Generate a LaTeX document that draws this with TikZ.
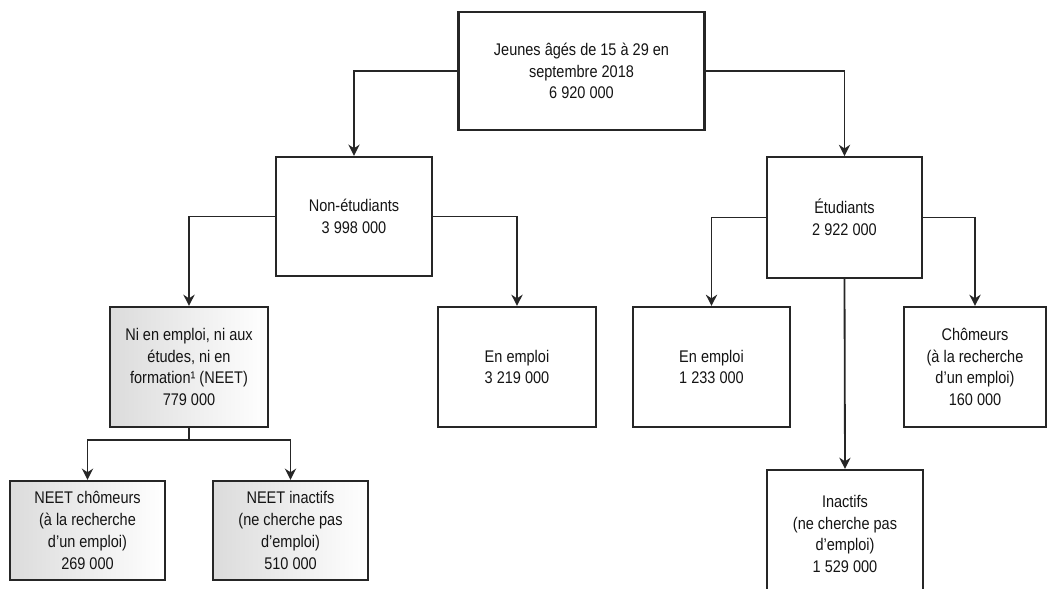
\documentclass[tikz,border=0pt]{standalone}
\usepackage{fontspec}
\setmainfont{Liberation Sans}[FakeStretch=0.86]
\usetikzlibrary{arrows.meta}
\tikzset{
  boite/.style={draw=black!85, line width=1.5pt, fill=white, align=center,
                text=black!92, font=\fontsize{12}{15.5}\selectfont},
  neet/.style={boite, left color=black!14, right color=white},
  fleche/.style={draw=black!85, line width=1.3pt, -{Stealth[length=8pt,width=8pt]}}
}
\begin{document}
\begin{tikzpicture}[x=0.025cm, y=-0.025cm]
    \useasboundingbox (0,0) rectangle (1048,588);

    % --- BOÎTES ---
    % Niveau 1
    \node[boite, minimum width=6.15cm, minimum height=2.95cm] (jeunes) at (581.5,71)
        {Jeunes âgés de 15 à 29 en\\septembre 2018\\6 920 000};
    % Niveau 2
    \node[boite, minimum width=3.9cm, minimum height=2.98cm] (nonetud) at (354,216.5)
        {Non-étudiants\\3 998 000};
    \node[boite, minimum width=3.88cm, minimum height=3.02cm] (etud) at (844.5,217.5)
        {Étudiants\\2 922 000};
    % Niveau 3
    \node[neet, minimum width=3.95cm, minimum height=3cm] (neetbox) at (189,367)
        {Ni en emploi, ni aux\\études, ni en\\formation¹ (NEET)\\779 000};
    \node[boite, minimum width=3.95cm, minimum height=3cm] (emploinon) at (517,367)
        {En emploi\\3 219 000};
    \node[boite, minimum width=3.93cm, minimum height=3cm] (emploietud) at (711.5,367)
        {En emploi\\1 233 000};
    \node[boite, minimum width=3.55cm, minimum height=3cm] (chomeurs) at (975,367)
        {Chômeurs\\(à la recherche\\d’un emploi)\\160 000};
    % Niveau 4
    \node[neet, minimum width=3.88cm, minimum height=2.48cm] (neetchom) at (87.5,530.5)
        {NEET chômeurs\\(à la recherche\\d’un emploi)\\269 000};
    \node[neet, minimum width=3.88cm, minimum height=2.48cm] (neetinact) at (290.5,530.5)
        {NEET inactifs\\(ne cherche pas\\d’emploi)\\510 000};
    \node[boite, minimum width=3.9cm, minimum height=3.2cm] (inactifs) at (845,534)
        {Inactifs\\(ne cherche pas\\d’emploi)\\1 529 000};

    % --- FLÈCHES ---
    \draw[fleche] (jeunes.west) -| (nonetud.north);
    \draw[fleche] (jeunes.east) -| (etud.north);
    \draw[fleche] (nonetud.west) -| (neetbox.north);
    \draw[fleche] (nonetud.east) -| (emploinon.north);
    \draw[fleche] (etud.west) -| (emploietud.north);
    \draw[fleche] (etud.east) -| (chomeurs.north);
    \draw[fleche] (etud.south) -- (inactifs.north);

    % Séparation des NEET
    \coordinate (fourche) at (189,440);
    \draw[fleche] (neetbox.south) -- (fourche) -| (neetchom.north);
    \draw[fleche] (fourche) -| (neetinact.north);
\end{tikzpicture}
\end{document}
